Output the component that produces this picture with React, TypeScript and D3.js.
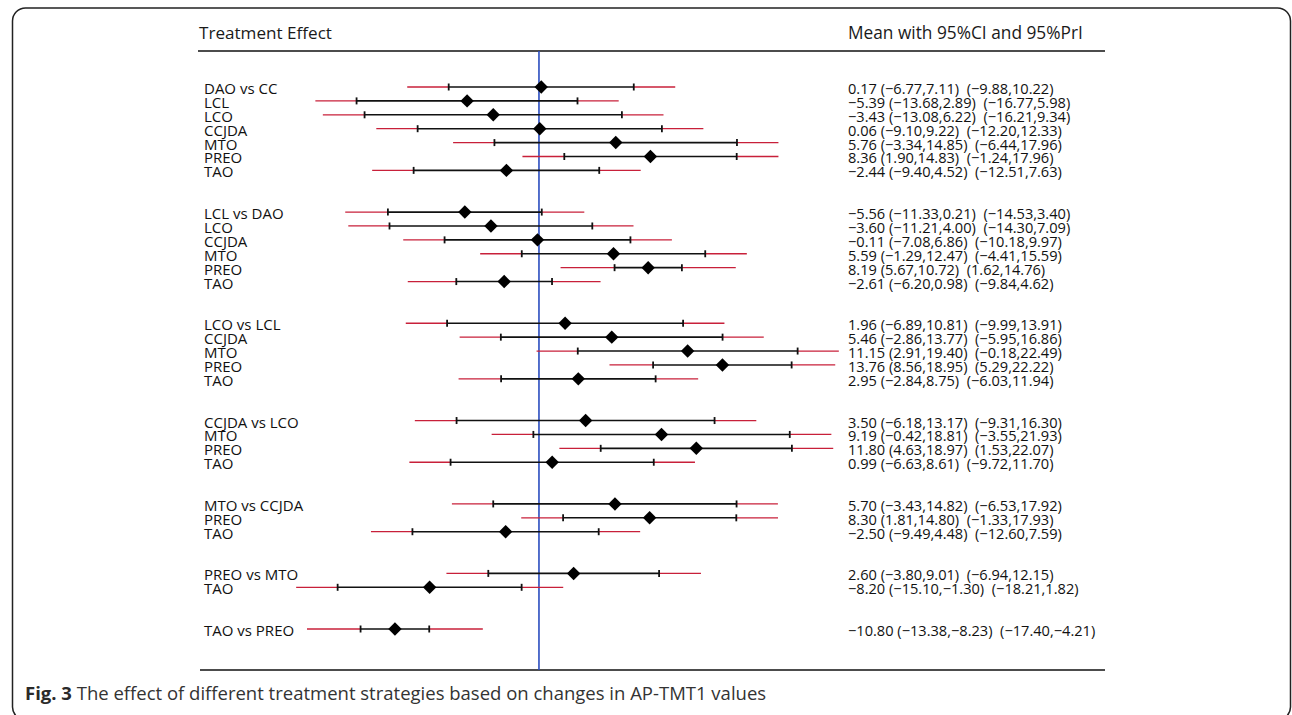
import React from "react";
import * as d3 from "d3";

// comparisons, grouped by reference treatment
const groupSizes = [7, 6, 5, 4, 3, 2, 1];
const labels = [
  "DAO vs CC", "LCL", "LCO", "CCJDA", "MTO", "PREO", "TAO",
  "LCL vs DAO", "LCO", "CCJDA", "MTO", "PREO", "TAO",
  "LCO vs LCL", "CCJDA", "MTO", "PREO", "TAO",
  "CCJDA vs LCO", "MTO", "PREO", "TAO",
  "MTO vs CCJDA", "PREO", "TAO",
  "PREO vs MTO", "TAO",
  "TAO vs PREO",
];
const means = [
  0.17, -5.39, -3.43, 0.06, 5.76, 8.36, -2.44,
  -5.56, -3.6, -0.11, 5.59, 8.19, -2.61,
  1.96, 5.46, 11.15, 13.76, 2.95,
  3.5, 9.19, 11.8, 0.99,
  5.7, 8.3, -2.5,
  2.6, -8.2,
  -10.8,
];
const ciLow = [
  -6.77, -13.68, -13.08, -9.1, -3.34, 1.9, -9.4,
  -11.33, -11.21, -7.08, -1.29, 5.67, -6.2,
  -6.89, -2.86, 2.91, 8.56, -2.84,
  -6.18, -0.42, 4.63, -6.63,
  -3.43, 1.81, -9.49,
  -3.8, -15.1,
  -13.38,
];
const ciHigh = [
  7.11, 2.89, 6.22, 9.22, 14.85, 14.83, 4.52,
  0.21, 4.0, 6.86, 12.47, 10.72, 0.98,
  10.81, 13.77, 19.4, 18.95, 8.75,
  13.17, 18.81, 18.97, 8.61,
  14.82, 14.8, 4.48,
  9.01, -1.3,
  -8.23,
];
const priLow = [
  -9.88, -16.77, -16.21, -12.2, -6.44, -1.24, -12.51,
  -14.53, -14.3, -10.18, -4.41, 1.62, -9.84,
  -9.99, -5.95, -0.18, 5.29, -6.03,
  -9.31, -3.55, 1.53, -9.72,
  -6.53, -1.33, -12.6,
  -6.94, -18.21,
  -17.4,
];
const priHigh = [
  10.22, 5.98, 9.34, 12.33, 17.96, 17.96, 7.63,
  3.4, 7.09, 9.97, 15.59, 14.76, 4.62,
  13.91, 16.86, 22.49, 22.22, 11.94,
  16.3, 21.93, 22.07, 11.7,
  17.92, 17.93, 7.59,
  12.15, 1.82,
  -4.21,
];

const W = 1292;
const H = 715;
const FONT = "'Open Sans', 'Noto Sans', sans-serif";

const fmt = (v: number) => {
  const s = Math.abs(v).toFixed(2);
  return v < 0 ? "\u2212" + s : s;
};

// row index of each comparison: two blank rows between groups
const rowIndex: number[] = [];
{
  let r = 0;
  groupSizes.forEach((n) => {
    for (let i = 0; i < n; i++) rowIndex.push(r++);
    r += 2;
  });
}
const nRows = rowIndex[rowIndex.length - 1];

export default function App() {
  const x = d3.scaleLinear().domain([-20, 25]).range([272.3, 872.3]);
  const y = d3.scaleLinear().domain([0, nRows]).range([87, 629]);
  const diamond = d3.symbol().type(d3.symbolDiamond2).size(115);

  const left = 198;
  const right = 1105;
  const top = 51;
  const bottom = 670;

  return (
    <svg width={W} height={H} style={{ position: "absolute", left: 0, top: 0, background: "#fff" }}>
      <rect x={12.5} y={8} width={1278} height={712} rx={13} fill="none" stroke="#222" strokeWidth={1.5} />

      <g fontFamily={FONT} fill="#1a1a1a">
        <text x={199} y={39} fontSize={17.1}>Treatment Effect</text>
        <text x={848} y={39} fontSize={17.3}>Mean with 95%CI and 95%PrI</text>
      </g>
      <line x1={left} x2={right} y1={top} y2={top} stroke="#111" strokeWidth={1.6} />
      <line x1={left + 2} x2={right} y1={bottom} y2={bottom} stroke="#111" strokeWidth={1.6} />
      <line x1={x(0)} x2={x(0)} y1={top} y2={bottom} stroke="#2a4dbf" strokeWidth={1.6} />

      {labels.map((lab, i) => {
        const cy = y(rowIndex[i]);
        return (
          <g key={i}>
            <line x1={x(priLow[i])} x2={x(ciLow[i])} y1={cy} y2={cy} stroke="#c8203a" strokeWidth={1.3} />
            <line x1={x(ciHigh[i])} x2={x(priHigh[i])} y1={cy} y2={cy} stroke="#c8203a" strokeWidth={1.3} />
            <line x1={x(ciLow[i])} x2={x(ciHigh[i])} y1={cy} y2={cy} stroke="#111" strokeWidth={1.6} />
            <line x1={x(ciLow[i])} x2={x(ciLow[i])} y1={cy - 3.5} y2={cy + 3.5} stroke="#111" strokeWidth={1.8} />
            <line x1={x(ciHigh[i])} x2={x(ciHigh[i])} y1={cy - 3.5} y2={cy + 3.5} stroke="#111" strokeWidth={1.8} />
            <path d={diamond() || ""} transform={`translate(${x(means[i])},${cy})`} fill="#000" />
            <text x={204} y={cy + 7} fontFamily={FONT} fontSize={15} fill="#111">{lab}</text>
            <text x={848} y={cy + 7} fontFamily={FONT} fontSize={14.6} fill="#111" style={{ whiteSpace: "pre" }}>
              {`${fmt(means[i])} (${fmt(ciLow[i])},${fmt(ciHigh[i])})  (${fmt(priLow[i])},${fmt(priHigh[i])})`}
            </text>
          </g>
        );
      })}

      <text x={25} y={700} fontFamily={FONT} fontSize={18.5} fill="#333">
        <tspan fontWeight="bold" fill="#2a2a2a">Fig. 3</tspan>
        <tspan> The effect of different treatment strategies based on changes in AP-TMT1 values</tspan>
      </text>
    </svg>
  );
}
